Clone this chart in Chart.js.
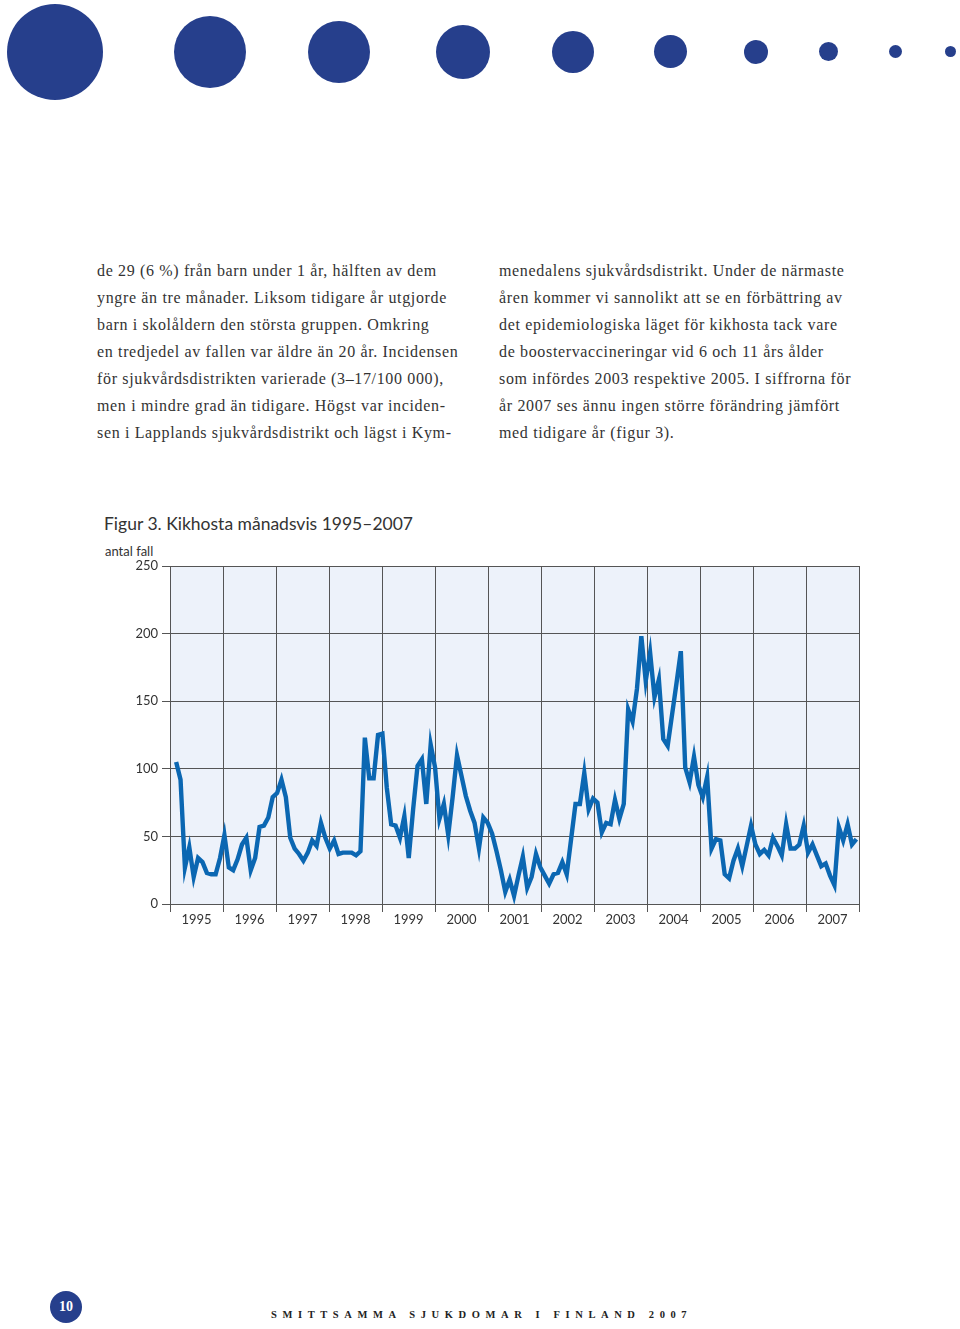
<!DOCTYPE html>
<html lang="sv">
<head>
<meta charset="utf-8">
<script src="https://cdn.jsdelivr.net/npm/chart.js@4/dist/chart.umd.min.js"></script>
<style>
  html, body { margin: 0; padding: 0; background: #fff; }
  body { width: 960px; height: 1329px; position: relative; overflow: hidden; }
  .dot { position: absolute; background: #263f8c; border-radius: 50%; }
  .col { position: absolute; top: 257px; font-family: "Liberation Serif", serif; font-size: 16px;
         letter-spacing: 0.65px; line-height: 27px; color: #333; white-space: nowrap; }
  .title { position: absolute; left: 104px; top: 513px; font-family: Lato, sans-serif; font-size: 17.5px; color: #333; }
  .unit { position: absolute; left: 105px; top: 543px; font-family: Lato, sans-serif; font-size: 13px; color: #333; }
  #grafico { position: absolute; left: 100px; top: 550px; }
  .pagenum { position: absolute; left: 50px; top: 1291px; width: 32px; height: 32px; border-radius: 50%;
             background: #263f8c; color: #fff; font: bold 14px "Liberation Serif", serif; text-align: center; line-height: 32px; }
  .footer { position: absolute; left: 271px; top: 1309px; font: bold 10.5px "Liberation Serif", serif;
            letter-spacing: 5.6px; color: #222; white-space: nowrap; }
</style>
</head>
<body>
<div class="dot" style="left:7px;top:4px;width:96px;height:96px"></div>
<div class="dot" style="left:174px;top:16px;width:72px;height:72px"></div>
<div class="dot" style="left:308px;top:21px;width:62px;height:62px"></div>
<div class="dot" style="left:436px;top:25px;width:54px;height:54px"></div>
<div class="dot" style="left:552px;top:31px;width:42px;height:42px"></div>
<div class="dot" style="left:654px;top:35px;width:33px;height:33px"></div>
<div class="dot" style="left:744px;top:40px;width:24px;height:24px"></div>
<div class="dot" style="left:819px;top:42px;width:19px;height:19px"></div>
<div class="dot" style="left:889px;top:45px;width:13px;height:13px"></div>
<div class="dot" style="left:945px;top:46px;width:11px;height:11px"></div>

<div class="col" style="left:97px">
de 29 (6 %) från barn under 1 år, hälften av dem<br>
yngre än tre månader. Liksom tidigare år utgjorde<br>
barn i skolåldern den största gruppen. Omkring<br>
en tredjedel av fallen var äldre än 20 år. Incidensen<br>
för sjukvårdsdistrikten varierade (3–17/100 000),<br>
men i mindre grad än tidigare. Högst var inciden-<br>
sen i Lapplands sjukvårdsdistrikt och lägst i Kym-
</div>
<div class="col" style="left:499px">
menedalens sjukvårdsdistrikt. Under de närmaste<br>
åren kommer vi sannolikt att se en förbättring av<br>
det epidemiologiska läget för kikhosta tack vare<br>
de boostervaccineringar vid 6 och 11 års ålder<br>
som infördes 2003 respektive 2005. I siffrorna för<br>
år 2007 ses ännu ingen större förändring jämfört<br>
med tidigare år (figur 3).
</div>

<div class="title">Figur 3. Kikhosta månadsvis 1995–2007</div>
<div class="unit">antal fall</div>
<canvas id="grafico" width="775" height="385"></canvas>

<div class="pagenum">10</div>
<div class="footer">SMITTSAMMA SJUKDOMAR I FINLAND 2007</div>

<script>
// antal fall per månad, jan–dec
const fall1995 = [105, 92, 27, 42, 20, 34, 31, 23, 22, 22, 34, 51];
const fall1996 = [27, 25, 33, 44, 49, 25, 34, 57, 58, 64, 79, 82];
const fall1997 = [92, 79, 49, 41, 37, 32, 38, 47, 43, 60, 49, 41];
const fall1998 = [47, 37, 38, 38, 38, 36, 39, 123, 93, 93, 125, 126];
const fall1999 = [86, 59, 58, 49, 65, 34, 70, 102, 107, 74, 118, 101];
const fall2000 = [63, 74, 51, 79, 110, 95, 80, 69, 60, 41, 64, 60];
const fall2001 = [52, 39, 25, 9, 18, 6, 21, 35, 12, 20, 37, 27];
const fall2002 = [21, 15, 22, 23, 31, 22, 48, 74, 74, 97, 70, 78];
const fall2003 = [75, 53, 60, 59, 77, 63, 74, 144, 135, 159, 198, 165];
const fall2004 = [186, 153, 166, 122, 117, 140, 163, 187, 101, 90, 109, 88];
const fall2005 = [79, 94, 41, 48, 47, 22, 19, 32, 41, 28, 43, 58];
const fall2006 = [44, 37, 40, 36, 49, 43, 36, 59, 41, 41, 44, 58];
const fall2007 = [38, 44, 36, 28, 30, 21, 14, 57, 47, 59, 44, 48];

const years = ["1995", "1996", "1997", "1998", "1999", "2000", "2001",
               "2002", "2003", "2004", "2005", "2006", "2007"];
const yTicks = [0, 50, 100, 150, 200, 250];

const monthly = [].concat(fall1995, fall1996, fall1997, fall1998, fall1999, fall2000,
  fall2001, fall2002, fall2003, fall2004, fall2005, fall2006, fall2007);

const xMin = -1.4;
const xMax = 155.6;

const plotBg = {
  id: "plotBg",
  beforeDraw(chart) {
    const a = chart.chartArea;
    const ctx = chart.ctx;
    ctx.save();
    ctx.fillStyle = "#edf2fa";
    ctx.fillRect(a.left, a.top, a.right - a.left, a.bottom - a.top);
    ctx.restore();
  }
};

const canvas = document.getElementById("grafico");
new Chart(canvas, {
  type: "line",
  data: {
    datasets: [{
      data: monthly.map((v, i) => ({ x: i, y: v })),
      borderColor: "#0b67b2",
      borderWidth: 4.4,
      pointRadius: 0,
      tension: 0,
      borderJoinStyle: "miter"
    }]
  },
  options: {
    responsive: false,
    animation: false,
    layout: { padding: { top: 16, right: 16, left: 0, bottom: 0 } },
    plugins: { legend: { display: false }, tooltip: { enabled: false } },
    scales: {
      x: {
        type: "linear",
        min: xMin,
        max: xMax,
        afterBuildTicks(axis) {
          const step = (xMax - xMin) / years.length;
          axis.ticks = [];
          for (let k = 0; k <= years.length; k++) axis.ticks.push({ value: xMin + k * step });
        },
        afterFit(axis) { axis.height = 31; },
        ticks: {
          autoSkip: false,
          maxRotation: 0,
          padding: 0,
          labelOffset: 26.5,
          color: "#333",
          font: { family: "Lato", size: 13 },
          callback: (v, i) => years[i] || ""
        },
        grid: { color: "#555", lineWidth: 1, tickLength: 8 },
        border: { color: "#555" }
      },
      y: {
        min: 0,
        max: 250,
        afterBuildTicks(axis) { axis.ticks = yTicks.map(v => ({ value: v })); },
        afterFit(axis) { axis.width = 70; },
        ticks: {
          padding: 4,
          color: "#333",
          font: { family: "Lato", size: 13 }
        },
        grid: { color: "#555", lineWidth: 1, tickLength: 8 },
        border: { color: "#555" }
      }
    }
  },
  plugins: [plotBg]
});
</script>
</body>
</html>
